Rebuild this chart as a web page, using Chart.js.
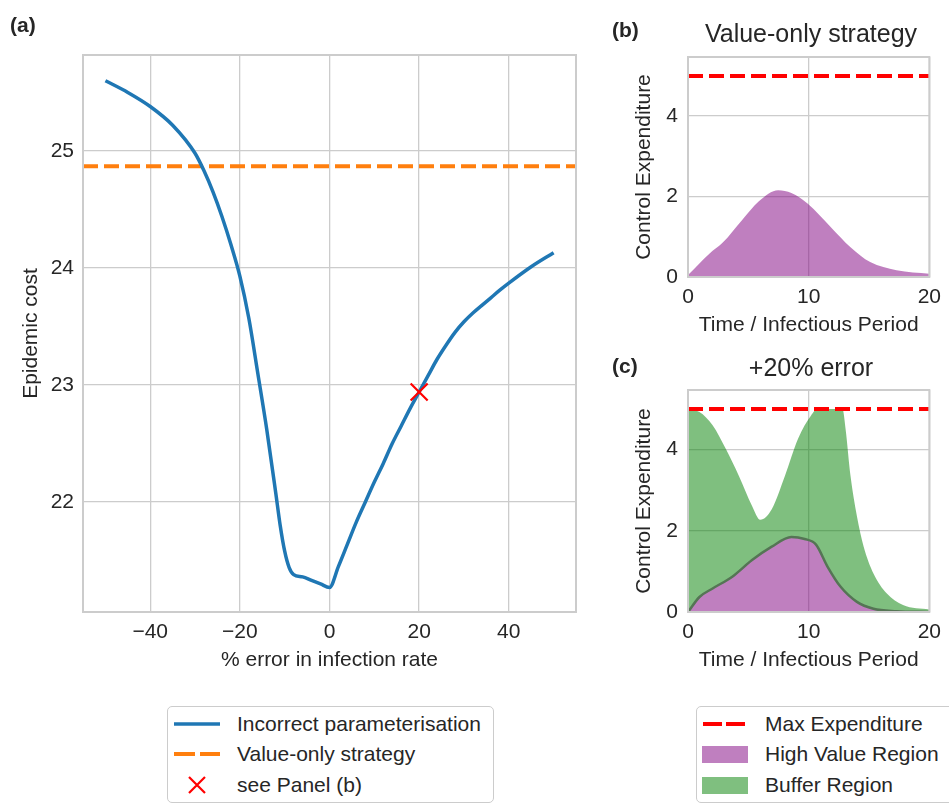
<!DOCTYPE html>
<html>
<head>
<meta charset="utf-8">
<script src="https://cdn.jsdelivr.net/npm/chart.js@4.4.1/dist/chart.umd.min.js"></script>
<style>
  body { margin: 0; background: #fff; font-family: "Liberation Sans", Arial, sans-serif; color: #262626; }
  #wrap { position: relative; width: 949px; height: 804px; overflow: hidden; }
  canvas { position: absolute; }
  .lbl { position: absolute; font-weight: bold; font-size: 21px; line-height: 1; }
  .ttl { position: absolute; font-size: 25px; line-height: 1; transform: translateX(-50%); white-space: nowrap; }
  .legend { position: absolute; border: 1.5px solid #cccccc; border-radius: 5px; background: #fff; font-size: 21px; box-sizing: border-box; }
  .row { position: absolute; left: 0; height: 30px; display: flex; align-items: center; white-space: nowrap; }
  .row svg { position: absolute; }
  .row span { position: absolute; }
</style>
</head>
<body>
<div id="wrap">
  <canvas id="panelA" width="600" height="690" style="left:0;top:0"></canvas>
  <canvas id="panelB" width="349" height="340" style="left:600px;top:0"></canvas>
  <canvas id="panelC" width="349" height="340" style="left:600px;top:340px"></canvas>

  <div class="lbl" style="left:10px;top:14px">(a)</div>
  <div class="lbl" style="left:612px;top:19px">(b)</div>
  <div class="lbl" style="left:612px;top:355px">(c)</div>
  <div class="ttl" style="left:811px;top:21px">Value-only strategy</div>
  <div class="ttl" style="left:811px;top:355px">+20% error</div>

  <div class="legend" style="left:167px;top:706px;width:327px;height:97px">
    <div class="row" style="top:2px">
      <svg width="50" height="10" style="left:6px"><line x1="0" y1="5" x2="46" y2="5" stroke="#1f77b4" stroke-width="3.5"/></svg>
      <span style="left:69px">Incorrect parameterisation</span>
    </div>
    <div class="row" style="top:32px">
      <svg width="50" height="10" style="left:6px"><line x1="0" y1="5" x2="46" y2="5" stroke="#ff7f0e" stroke-width="4" stroke-dasharray="21 5"/></svg>
      <span style="left:69px">Value-only strategy</span>
    </div>
    <div class="row" style="top:63px">
      <svg width="50" height="20" style="left:6px"><path d="M15 2 L31 18 M31 2 L15 18" stroke="#ff0000" stroke-width="2.2"/></svg>
      <span style="left:69px">see Panel (b)</span>
    </div>
  </div>

  <div class="legend" style="left:696px;top:706px;width:262px;height:97px">
    <div class="row" style="top:2px">
      <svg width="50" height="10" style="left:6px"><line x1="0" y1="5" x2="44" y2="5" stroke="#ff0000" stroke-width="4" stroke-dasharray="19 4"/></svg>
      <span style="left:68px">Max Expenditure</span>
    </div>
    <div class="row" style="top:32px">
      <svg width="50" height="20" style="left:5px"><rect x="0" y="2" width="46" height="17" fill="rgba(128,0,128,0.5)"/></svg>
      <span style="left:68px">High Value Region</span>
    </div>
    <div class="row" style="top:63px">
      <svg width="50" height="20" style="left:5px"><rect x="0" y="2" width="46" height="17" fill="rgba(0,128,0,0.5)"/></svg>
      <span style="left:68px">Buffer Region</span>
    </div>
  </div>
</div>

<script>
// panel (a): epidemic cost vs % error in infection rate
const errPct = [-50, -45, -40, -35, -30, -28, -26, -24, -22, -20, -18, -16, -14, -12, -11, -10, -9, -8, -6, -4, -2, 0,
                2, 4, 6, 8, 10, 12, 14, 16, 18, 20, 22, 24, 26, 28, 30, 32, 34, 36, 38, 40, 45, 50];
const costIncorrect = [25.60, 25.50, 25.38, 25.22, 24.98, 24.83, 24.65, 24.44, 24.20, 23.93, 23.57, 23.10, 22.62, 22.08, 21.80, 21.58, 21.44, 21.38, 21.36, 21.33, 21.30, 21.27,
                       21.45, 21.64, 21.83, 22.00, 22.17, 22.33, 22.50, 22.65, 22.80, 22.94, 23.08, 23.22, 23.34, 23.45, 23.54, 23.615, 23.68, 23.745, 23.81, 23.87, 24.01, 24.13];
const valueOnlyCost = 24.87;
const markerPct = [20];
const markerCost = [22.94];
const aTicksX = [-40, -20, 0, 20, 40];
const aTicksY = [22, 23, 24, 25];

// panel (b): value-only strategy
const timeB = [0, 1.77, 2.86, 4.49, 5.85, 7.48, 8.57, 9.93, 11.84, 13.47, 15.1, 17.28, 20];
const highValueB = [0.05, 0.58, 0.85, 1.42, 1.88, 2.16, 2.09, 1.82, 1.24, 0.74, 0.37, 0.17, 0.08];

// panel (c): +20% error
const timeC = [0, 0.95, 2.04, 3.67, 5.31, 6.94, 8.57, 9.66, 10.61, 11.56, 12.65, 14.0, 15.37, 17.28, 20];
const highValueC = [0.0, 0.37, 0.58, 0.87, 1.28, 1.61, 1.85, 1.80, 1.66, 1.12, 0.62, 0.25, 0.08, 0.02, 0.0];
const timeBuffer = [0, 0.95, 2.04, 3.13, 4.22, 5.31, 5.99, 6.94, 8.03, 9.12, 10.2, 10.75, 12.8, 13.06, 13.47, 14.0, 14.56, 15.37, 16.46, 17.82, 20];
const bufferTop = [4.99, 4.93, 4.6, 4.02, 3.35, 2.61, 2.27, 2.53, 3.35, 4.27, 4.84, 5.0, 5.0, 4.51, 3.35, 2.36, 1.61, 0.95, 0.46, 0.17, 0.06];

const maxExpenditure = 5;
const timeTicks = [0, 10, 20];
const expTicks = [0, 2, 4];

const FONT = '"Liberation Sans", Arial, sans-serif';
const TXT = '#262626';
const GRID = '#cccccc';

const pts = (xs, ys) => xs.map((x, i) => ({ x, y: ys[i] }));
const minus = v => String(v).replace('-', '\u2212');

const frame = {
    id: 'frame',
    afterDatasetsDraw(chart) {
        const { ctx, chartArea: a } = chart;
        ctx.save();
        ctx.strokeStyle = GRID;
        ctx.lineWidth = 2;
        ctx.strokeRect(a.left, a.top, a.right - a.left, a.bottom - a.top);
        ctx.restore();
    }
};

function axis(o) {
    return {
        type: 'linear',
        position: o.pos,
        min: o.min,
        max: o.max,
        afterBuildTicks: s => { s.ticks = o.ticks.map(v => ({ value: v })); },
        afterFit: s => { if (o.pos === 'bottom') s.height = o.size; else s.width = o.size; },
        border: { display: false },
        grid: { color: GRID, lineWidth: 1.3, drawTicks: false },
        ticks: {
            color: TXT, padding: o.tickPad, autoSkip: false, maxRotation: 0,
            font: { family: FONT, size: 21 },
            callback: v => minus(v)
        },
        title: {
            display: true, text: o.title, color: TXT,
            font: { family: FONT, size: 21 },
            padding: o.pos === 'bottom' ? { top: 0, bottom: o.titlePad } : { top: o.titlePad, bottom: 0 }
        }
    };
}

function baseOptions(padding, x, y) {
    return {
        responsive: false,
        animation: false,
        layout: { padding },
        plugins: { legend: { display: false }, tooltip: { enabled: false } },
        scales: { x: axis(x), y: axis(y) }
    };
}

new Chart(document.getElementById('panelA'), {
    type: 'line',
    data: {
        datasets: [
            {
                data: pts(markerPct, markerCost), showLine: false,
                pointStyle: 'crossRot', pointRadius: 12, borderColor: '#ff0000', borderWidth: 2.2, order: 0
            },
            {
                data: pts(errPct, costIncorrect), borderColor: '#1f77b4', borderWidth: 3.5,
                pointRadius: 0, cubicInterpolationMode: 'monotone', order: 1
            },
            {
                data: pts([-55, 55], [valueOnlyCost, valueOnlyCost]), borderColor: '#ff7f0e', borderWidth: 4,
                borderDash: [15, 6], pointRadius: 0, order: 2
            }
        ]
    },
    options: baseOptions({ top: 55, right: 24, left: 0, bottom: 0 },
        { pos: 'bottom', min: -55, max: 55, ticks: aTicksX, size: 78, tickPad: 8, title: '% error in infection rate', titlePad: 17 },
        { pos: 'left', min: 21.06, max: 25.82, ticks: aTicksY, size: 83, tickPad: 9, title: 'Epidemic cost', titlePad: 19 }),
    plugins: [frame]
});

new Chart(document.getElementById('panelB'), {
    type: 'line',
    data: {
        datasets: [
            {
                data: pts([0, 20], [maxExpenditure, maxExpenditure]), borderColor: '#ff0000', borderWidth: 4,
                borderDash: [15, 6], pointRadius: 0, order: 0
            },
            {
                data: pts(timeB, highValueB), borderWidth: 0, pointRadius: 0, fill: 'origin',
                backgroundColor: 'rgba(128,0,128,0.5)', cubicInterpolationMode: 'monotone', order: 1
            }
        ]
    },
    options: baseOptions({ top: 57, right: 16, left: 0, bottom: 0 },
        { pos: 'bottom', min: 0, max: 20, ticks: timeTicks, size: 63, tickPad: 8, title: 'Time / Infectious Period', titlePad: 2 },
        { pos: 'left', min: 0, max: 5.47, ticks: expTicks, size: 88, tickPad: 10, title: 'Control Expenditure', titlePad: 32 }),
    plugins: [frame]
});

new Chart(document.getElementById('panelC'), {
    type: 'line',
    data: {
        datasets: [
            {
                data: pts(timeC, highValueC), borderColor: '#557555', borderWidth: 2.5, pointRadius: 0, fill: 'origin',
                backgroundColor: 'rgba(128,0,128,0.5)', cubicInterpolationMode: 'monotone', order: 1
            },
            {
                data: pts(timeBuffer, bufferTop), borderWidth: 0, pointRadius: 0, fill: { target: 0 },
                backgroundColor: 'rgba(0,128,0,0.5)', cubicInterpolationMode: 'monotone', order: 2
            },
            {
                data: pts([0, 20], [maxExpenditure, maxExpenditure]), borderColor: '#ff0000', borderWidth: 4,
                borderDash: [15, 6], pointRadius: 0, order: 0
            }
        ]
    },
    options: baseOptions({ top: 50, right: 16, left: 0, bottom: 0 },
        { pos: 'bottom', min: 0, max: 20, ticks: timeTicks, size: 68, tickPad: 8, title: 'Time / Infectious Period', titlePad: 7 },
        { pos: 'left', min: 0, max: 5.47, ticks: expTicks, size: 88, tickPad: 10, title: 'Control Expenditure', titlePad: 32 }),
    plugins: [frame]
});
</script>
</body>
</html>
